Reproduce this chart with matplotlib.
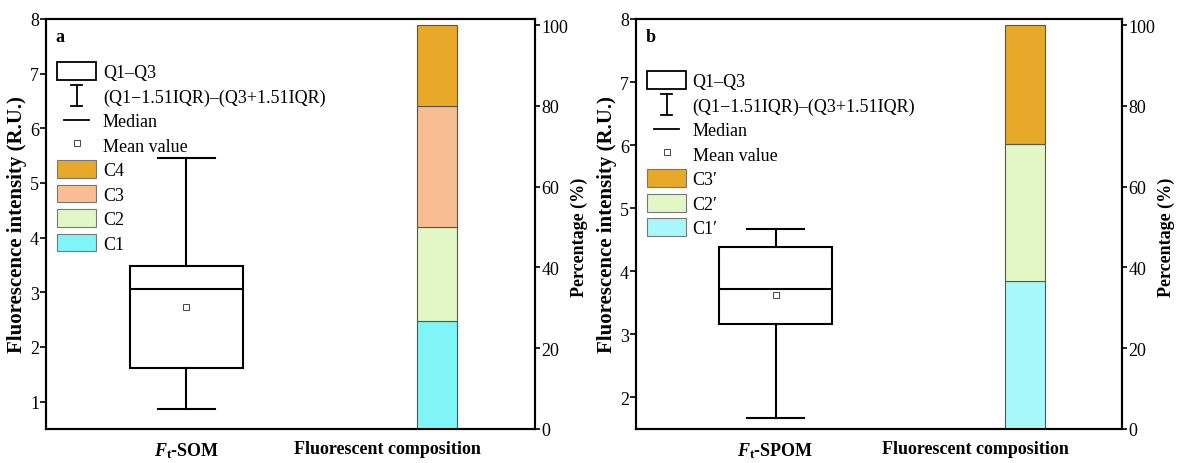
import matplotlib
matplotlib.use('Agg')
import matplotlib.pyplot as plt
from matplotlib.patches import Patch
from matplotlib.lines import Line2D
from matplotlib.legend_handler import HandlerBase

plt.rcParams['font.family'] = ['Liberation Serif', 'DejaVu Serif']
plt.rcParams['mathtext.fontset'] = 'custom'
plt.rcParams['mathtext.rm'] = 'Liberation Serif:bold'
plt.rcParams['mathtext.it'] = 'Liberation Serif:bold:italic'
plt.rcParams['mathtext.bf'] = 'Liberation Serif:bold'

# box statistics (R.U.)
som_box = dict(whislo=0.87, q1=1.61, med=3.07, q3=3.48, whishi=5.45, mean=2.74)
spom_box = dict(whislo=1.68, q1=3.16, med=3.72, q3=4.39, whishi=4.67, mean=3.62)

# fluorescent component shares (%)
som_components = ['C1', 'C2', 'C3', 'C4']
som_shares = [26.8, 23.3, 29.9, 20.0]
spom_components = ['C1\u2032', 'C2\u2032', 'C3\u2032']
spom_shares = [36.7, 33.8, 29.5]

som_colors = ['#80F5F8', '#E2F7C5', '#F9BD93', '#E8A82A']
spom_colors = ['#A8F8FA', '#E2F7C5', '#E8A82A']

panel_labels = ['a', 'b']
x_labels_som = ['$F_{\\mathrm{t}}$-SOM', 'Fluorescent composition']
x_labels_spom = ['$F_{\\mathrm{t}}$-SPOM', 'Fluorescent composition']

FS = 13


class HandlerWhisker(HandlerBase):
    def create_artists(self, legend, orig_handle, xdescent, ydescent,
                       width, height, fontsize, trans):
        cx = width / 2 - xdescent
        cw = width * 0.14
        y0 = -ydescent - 1
        y1 = height - ydescent + 1
        arts = [Line2D([cx, cx], [y0, y1]),
                Line2D([cx - cw, cx + cw], [y0, y0]),
                Line2D([cx - cw, cx + cw], [y1, y1])]
        for a in arts:
            a.set_color('black')
            a.set_linewidth(1.3)
            a.set_transform(trans)
        return arts


class HandlerMedian(HandlerBase):
    def create_artists(self, legend, orig_handle, xdescent, ydescent,
                       width, height, fontsize, trans):
        cx = width / 2 - xdescent
        hw = width * 0.31
        cy = height / 2 - ydescent
        ln = Line2D([cx - hw, cx + hw], [cy, cy], color='black', linewidth=1.3)
        ln.set_transform(trans)
        return [ln]


class WhiskerKey(object):
    pass


class MedianKey(object):
    pass


def draw_panel(ax, box, comps, shares, colors, ylim, label, xlabels, legend_top):
    ax.bxp([box], positions=[1.0], widths=0.454, showmeans=True,
           showfliers=False, patch_artist=True,
           boxprops=dict(facecolor='white', edgecolor='black', linewidth=1.5),
           whiskerprops=dict(color='black', linewidth=1.5),
           capprops=dict(color='black', linewidth=1.5),
           medianprops=dict(color='black', linewidth=1.5),
           meanprops=dict(marker='s', markersize=4, markerfacecolor='white',
                          markeredgecolor='#444444', markeredgewidth=0.7))
    ax.set_ylim(*ylim)
    ax.set_xlim(0.44, 2.39)
    ax.set_xticks([1.0, 1.8])
    ax.set_xticklabels(xlabels, fontsize=FS, fontweight='bold')
    ax.tick_params(axis='x', length=0, pad=8)
    ax.tick_params(axis='y', direction='out', length=4, width=1.2, labelsize=FS,
                   pad=1)
    ax.set_ylabel('Fluorescence intensity (R.U.)', fontsize=15, fontweight='bold',
                  labelpad=2)
    for s in ax.spines.values():
        s.set_linewidth(1.5)

    ax2 = ax.twinx()
    bottom = 0
    for name, val, col in zip(comps, shares, colors):
        ax2.bar(2.0, val, width=0.16, bottom=bottom, color=col,
                edgecolor='#555555', linewidth=0.8)
        bottom += val
    ax2.set_ylim(0, 101.5)
    ax2.set_yticks([0, 20, 40, 60, 80, 100])
    ax2.tick_params(axis='y', direction='out', length=3.5, width=1.2,
                    labelsize=FS, pad=1)
    ax2.set_ylabel('Percentage (%)', fontsize=FS, fontweight='bold', labelpad=2)
    ax2.yaxis.label.set_y(0.47)
    for s in ax2.spines.values():
        s.set_linewidth(1.5)

    ax2.text(0.02, 0.957, label, transform=ax.transAxes, fontsize=FS,
             fontweight='bold', va='center', ha='left')

    handles = [Patch(facecolor='white', edgecolor='black', linewidth=1.3),
               WhiskerKey(), MedianKey(),
               Line2D([], [], linestyle='none', marker='s', markersize=4,
                      markerfacecolor='white', markeredgecolor='#444444',
                      markeredgewidth=0.7)]
    labels = ['Q1\u2013Q3', '(Q1\u22121.51IQR)\u2013(Q3+1.51IQR)', 'Median',
              'Mean value']
    for name, col in list(zip(comps, colors))[::-1]:
        handles.append(Patch(facecolor=col, edgecolor='#777777', linewidth=0.8))
        labels.append(name)
    ax2.legend(handles, labels, loc='upper left',
               bbox_to_anchor=(0.022, legend_top), bbox_transform=ax.transAxes,
               frameon=False, fontsize=FS, handlelength=2.2, handleheight=1.15,
               handletextpad=0.35, labelspacing=0.3, borderpad=0,
               borderaxespad=0,
               handler_map={WhiskerKey: HandlerWhisker(),
                            MedianKey: HandlerMedian()})
    return ax2


fig = plt.figure(figsize=(11.8, 4.64), dpi=100)
ax_a = fig.add_axes([46 / 1180, 34 / 464, 489 / 1180, 410 / 464])
ax_b = fig.add_axes([636 / 1180, 34 / 464, 486 / 1180, 410 / 464])

draw_panel(ax_a, som_box, som_components, som_shares, som_colors, (0.5, 8),
           panel_labels[0], x_labels_som, 0.895)
draw_panel(ax_b, spom_box, spom_components, spom_shares, spom_colors, (1.5, 8),
           panel_labels[1], x_labels_spom, 0.873)

fig.savefig('out.png', dpi=100)
